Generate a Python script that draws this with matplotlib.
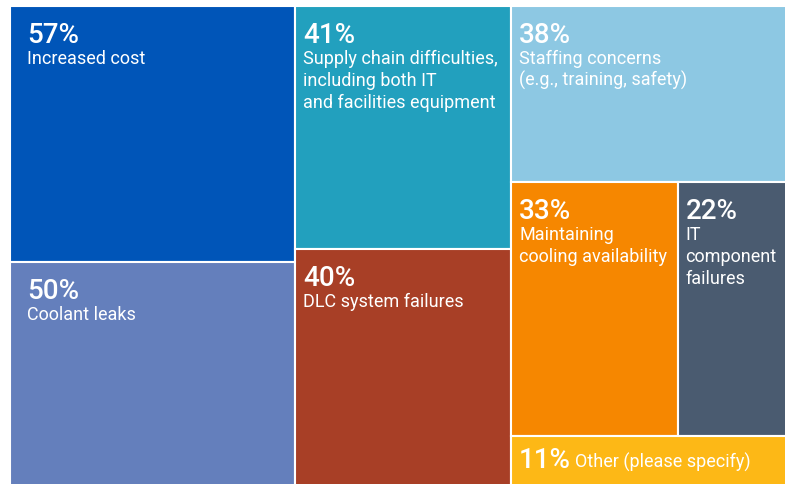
import matplotlib.pyplot as plt
from matplotlib.patches import Rectangle

# share of respondents for each concern
pcts = [57, 50, 41, 40, 38, 33, 22, 11]
labels = ['Increased cost',
          'Coolant leaks',
          'Supply chain difficulties,\nincluding both IT\nand facilities equipment',
          'DLC system failures',
          'Staffing concerns\n(e.g., training, safety)',
          'Maintaining\ncooling availability',
          'IT\ncomponent\nfailures',
          'Other (please specify)']
colors = ['#0055b8', '#647fbc', '#22a0be', '#a83f26',
          '#8dc8e3', '#f68700', '#4a5b70', '#fdb816']

# columns -> rows -> boxes (indexes into pcts)
layout = [[[0], [1]], [[2], [3]], [[4], [5, 6], [7]]]

plt.rcParams['font.family'] = ['Roboto', 'DejaVu Sans']

total = sum(pcts)
rects = {}
x0 = 0
for c, col in enumerate(layout):
    colsum = sum(pcts[i] for row in col for i in row)
    w = colsum / total
    y0 = 0
    for row in col:
        rowsum = sum(pcts[i] for i in row)
        h = rowsum / colsum
        xx = x0
        for i in row:
            ww = w * pcts[i] / rowsum
            rects[i] = (xx, y0, ww, h, c)
            xx += ww
        y0 += h
    x0 += w

fig = plt.figure(figsize=(7.85, 4.85), dpi=100)
# axes runs a little past the right/bottom edge so the outer white stroke is cut off
ax = fig.add_axes([9.5 / 785, -3 / 485, 779 / 785, 481 / 485])
ax.set_xlim(0, 1)
ax.set_ylim(1, 0)
ax.axis('off')

px = 0.72  # pixels -> points
for i in range(len(pcts)):
    x, y, w, h, c = rects[i]
    ax.add_patch(Rectangle((x, y), w, h, facecolor=colors[i],
                           edgecolor='white', linewidth=1.5))
    pad = 18 if c == 0 else 8
    pct_txt = f'{pcts[i]}%'
    if i == 7:
        ax.annotate(pct_txt, (x, y), xytext=(pad * px, -31 * px),
                    textcoords='offset points', va='baseline',
                    color='white', fontsize=20, fontweight='medium')
        ax.annotate(labels[i], (x, y), xytext=((pad + 56) * px, -31 * px),
                    textcoords='offset points', va='baseline',
                    color='white', fontsize=13)
        continue
    ax.annotate(pct_txt, (x, y), xytext=(pad * px, -36 * px),
                textcoords='offset points', va='baseline',
                color='white', fontsize=20, fontweight='medium')
    for k, line in enumerate(labels[i].split('\n')):
        ax.annotate(line, (x, y), xytext=(pad * px, -(57 + 22 * k) * px),
                    textcoords='offset points', va='baseline',
                    color='white', fontsize=13)

plt.savefig('out.png', dpi=100)
